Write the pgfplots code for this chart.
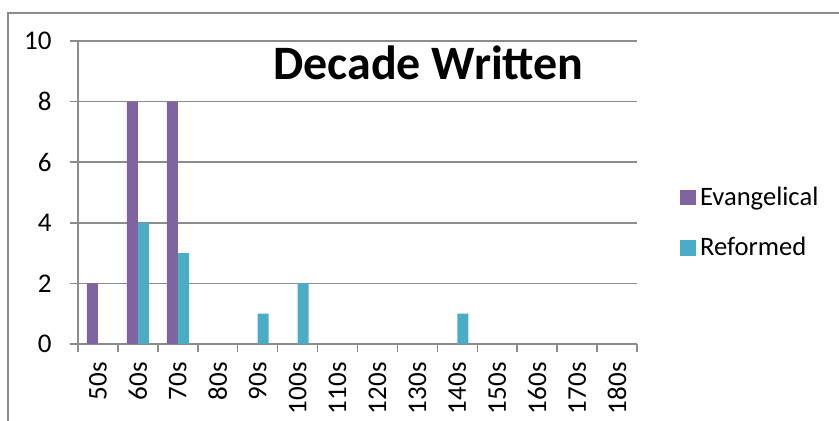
\documentclass[border=0pt]{standalone}
\usepackage{pgfplots}
\pgfplotsset{compat=1.18}
\usepackage{fontspec}
\setmainfont{Carlito}
\definecolor{evang}{HTML}{8064A2}
\definecolor{reform}{HTML}{4BACC6}
\definecolor{gridc}{HTML}{8C8C8C}
\begin{document}
\begin{tikzpicture}
\useasboundingbox (0,0) rectangle (419.5pt,210.5pt);
\draw[gridc, line width=0.75pt] (4pt,0) -- (4pt,204pt) -- (419.5pt,204pt);
\begin{axis}[
  at={(39pt,38.5pt)}, anchor=south west,
  scale only axis, width=279.5pt, height=151.5pt,
  xmin=-0.5, xmax=13.5, ymin=0, ymax=10,
  axis lines*=left,
  axis line style={gridc, line width=0.75pt},
  ybar=0pt, bar width=5.5pt,
  ytick={0,2,...,10},
  ymajorgrids, grid style={gridc, line width=0.75pt},
  tick align=outside, major tick length=4pt,
  tick style={gridc, line width=0.75pt},
  /pgf/number format/assume math mode=true,
  yticklabel style={font=\fontsize{13.5}{15}\selectfont, anchor=east, inner sep=0pt, xshift=-9pt},
  xtick={0,...,13},
  xticklabels={50s,60s,70s,80s,90s,100s,110s,120s,130s,140s,150s,160s,170s,180s},
  xtick style={draw=none},
  xticklabel style={font=\fontsize{13.5}{15}\selectfont, rotate=90, anchor=east, inner sep=0pt, xshift=-5pt},
  extra x ticks={-0.5,0.5,1.5,2.5,3.5,4.5,5.5,6.5,7.5,8.5,9.5,10.5,11.5,12.5,13.5},
  extra x tick labels={},
  extra x tick style={xtick style={draw=gridc, line width=0.75pt}, grid=none},
  legend style={at={(axis description cs:1.077,0.40)}, anchor=west, draw=none, fill=none,
    inner sep=0pt, row sep=10.5pt, font=\fontsize{13.3}{15}\selectfont},
  legend cell align=left,
  legend image code/.code={\fill[#1] (0pt,-3.9pt) rectangle (7.8pt,3.9pt);},
]
\addplot[fill=evang, draw=none] coordinates {(0,2) (1,8) (2,8)};
\addplot[fill=reform, draw=none] coordinates {(1,4) (2,3) (4,1) (5,2) (9,1)};
\legend{Evangelical, Reformed}
\end{axis}
\node[font=\bfseries\fontsize{24}{27}\selectfont] at (214.25pt,179pt) {Decade Written};
\end{tikzpicture}
\end{document}
